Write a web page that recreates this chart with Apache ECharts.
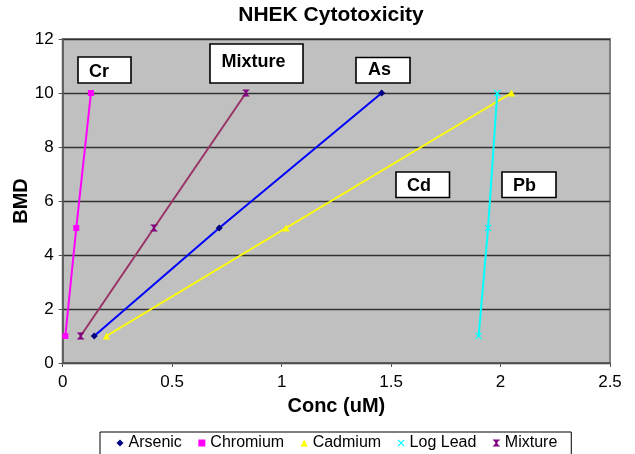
<!DOCTYPE html>
<html>
<head>
<meta charset="utf-8">
<script src="https://cdn.jsdelivr.net/npm/echarts@6/dist/echarts.min.js"></script>
<style>
  html, body { margin: 0; padding: 0; background: #fff; }
  #chart { width: 635px; height: 454px; }
</style>
</head>
<body>
<div id="chart"></div>
<script>
// Benchmark dose levels shared by every series
const bmd = [1, 5, 10];

// Concentration (uM) at each BMD level
const arsenic  = [0.144, 0.715, 1.457];
const chromium = [0.012, 0.062, 0.129];
const cadmium  = [0.20, 1.02, 2.05];
const logLead  = [1.90, 1.943, 1.985];
const mixture  = [0.082, 0.417, 0.837];

const seriesNames = ['Arsenic', 'Chromium', 'Cadmium', 'Log Lead', 'Mixture'];

// Callout labels placed over the plot
const callouts = ['Cr', 'Mixture', 'As', 'Cd', 'Pb'];

const FONT = 'Liberation Sans, Arial, Helvetica, sans-serif';

const xMark = 'path://M0,1.2 L1.2,0 L5,3.8 L8.8,0 L10,1.2 L6.2,5 L10,8.8 L8.8,10 L5,6.2 L1.2,10 L0,8.8 L3.8,5 Z';
const xBarMark = 'path://M0,0 H10 V1.4 H8.6 L6.2,5 L8.6,8.6 H10 V10 H0 V8.6 H1.4 L3.8,5 L1.4,1.4 H0 Z';

function pairs(xs) {
  return xs.map((x, i) => [x, bmd[i]]);
}

const styles = [
  { data: arsenic,  line: '#0000ff', mark: '#000080', symbol: 'diamond',  size: 7 },
  { data: chromium, line: '#ff00ff', mark: '#ff00ff', symbol: 'rect',     size: 6 },
  { data: cadmium,  line: '#ffff00', mark: '#ffff00', symbol: 'triangle', size: 7 },
  { data: logLead,  line: '#00ffff', mark: '#00ffff', symbol: xMark,      size: 7 },
  { data: mixture,  line: '#993366', mark: '#800080', symbol: xBarMark,   size: 7 }
];

const chart = echarts.init(document.getElementById('chart'));

const boxStyle = { fill: '#ffffff', stroke: '#000000', lineWidth: 1.6 };
const labelFont = 'bold 18px ' + FONT;

function callout(text, x, y, w, h, tx, ty) {
  return {
    type: 'group',
    z: 100,
    children: [
      { type: 'rect', shape: { x: x, y: y, width: w, height: h }, style: boxStyle },
      { type: 'text', style: { text: text, x: tx, y: ty, font: labelFont, fill: '#000', verticalAlign: 'middle', align: 'left' } }
    ]
  };
}

const option = {
  animation: false,
  backgroundColor: '#ffffff',
  title: {
    text: 'NHEK Cytotoxicity',
    left: 331,
    top: 5,
    padding: 0,
    textAlign: 'center',
    textStyle: { fontFamily: FONT, fontWeight: 'bold', fontSize: 21, color: '#000' }
  },
  grid: {
    left: 62.7,
    right: 25,
    top: 39,
    bottom: 91,
    containLabel: false,
    outerBoundsMode: 'none',
    show: true,
    backgroundColor: '#c0c0c0',
    borderColor: '#808080',
    borderWidth: 2
  },
  legend: {
    left: 100,
    top: 432,
    padding: [3, 14, 8, 16.5],
    itemWidth: 7,
    itemHeight: 7,
    itemGap: 16.5,
    borderColor: '#000',
    borderWidth: 1,
    backgroundColor: '#fff',
    textStyle: { fontFamily: FONT, fontSize: 16, color: '#000' },
    data: seriesNames.map((n, i) => ({ name: n, icon: styles[i].symbol, itemStyle: { color: styles[i].mark } }))
  },
  xAxis: {
    type: 'value',
    min: 0,
    max: 2.5,
    interval: 0.5,
    name: 'Conc (uM)',
    nameLocation: 'middle',
    nameGap: 33,
    nameMoveOverlap: false,
    nameTextStyle: { fontFamily: FONT, fontWeight: 'bold', fontSize: 20, color: '#000' },
    axisLine: { show: true, onZero: false, lineStyle: { color: '#555', width: 1.5 } },
    axisTick: { show: true, inside: false, length: 4, lineStyle: { color: '#555' } },
    axisLabel: { fontFamily: FONT, fontSize: 17, color: '#000', margin: 11 },
    splitLine: { show: false }
  },
  yAxis: {
    type: 'value',
    min: 0,
    max: 12,
    interval: 2,
    name: 'BMD',
    nameLocation: 'middle',
    nameGap: 31,
    nameMoveOverlap: false,
    nameTextStyle: { fontFamily: FONT, fontWeight: 'bold', fontSize: 20, color: '#000' },
    axisLine: { show: true, onZero: false, lineStyle: { color: '#555', width: 1.5 } },
    axisTick: { show: true, inside: false, length: 4, lineStyle: { color: '#555' } },
    axisLabel: { fontFamily: FONT, fontSize: 17, color: '#000', margin: 9 },
    splitLine: { show: true, lineStyle: { color: '#333333', width: 1.3 } }
  },
  series: seriesNames.map((n, i) => ({
    name: n,
    type: 'line',
    data: pairs(styles[i].data),
    symbol: styles[i].symbol,
    symbolSize: styles[i].size,
    showSymbol: true,
    lineStyle: { color: styles[i].line, width: 2 },
    itemStyle: { color: styles[i].mark, borderWidth: 0 },
    emphasis: { disabled: true }
  })),
  graphic: [
    callout(callouts[0], 78, 57, 53, 26, 89, 72),
    callout(callouts[1], 210, 44, 93, 39, 221.5, 62),
    callout(callouts[2], 356, 57.5, 54, 25.5, 368, 70),
    callout(callouts[3], 396, 172, 53.5, 25.5, 407, 186.5),
    callout(callouts[4], 502, 172, 54, 25.5, 513, 186.5)
  ]
};

chart.setOption(option);
</script>
</body>
</html>
